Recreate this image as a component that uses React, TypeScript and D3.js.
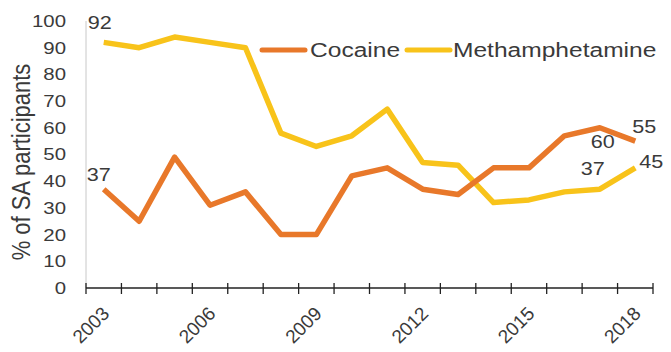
import React from "react";
import * as d3 from "d3";

const years = [2003, 2004, 2005, 2006, 2007, 2008, 2009, 2010, 2011, 2012, 2013, 2014, 2015, 2016, 2017, 2018];
const cocaine = [37, 25, 49, 31, 36, 20, 20, 42, 45, 37, 35, 45, 45, 57, 60, 55];
const meth = [92, 90, 94, 92, 90, 58, 53, 57, 67, 47, 46, 32, 33, 36, 37, 45];
const yTicks = [0, 10, 20, 30, 40, 50, 60, 70, 80, 90, 100];
const xLabelYears = [2003, 2006, 2009, 2012, 2015, 2018];

const W = 671;
const H = 352;
const ORANGE = "#E8782A";
const YELLOW = "#F8C31A";
const TEXT = "#3a3a3a";
const FONT = "'Liberation Sans', Arial, sans-serif";
const SX = 1.2; // horizontal text stretch

type LabelProps = {
  x: number;
  y: number;
  size: number;
  anchor?: "start" | "middle" | "end";
  rotate?: number;
  sx?: number;
  children: React.ReactNode;
};

function Label({ x, y, size, anchor = "middle", rotate = 0, sx = SX, children }: LabelProps) {
  return (
    <text
      transform={`translate(${x},${y}) scale(${sx},1) rotate(${rotate})`}
      textAnchor={anchor}
      dy="0.35em"
      fontSize={size}
      fill={TEXT}
    >
      {children}
    </text>
  );
}

export default function App() {
  const x = d3.scaleBand<number>().domain(years).range([86, 653]).padding(0);
  const cx = (yr: number) => (x(yr) as number) + x.bandwidth() / 2;
  const y = d3.scaleLinear().domain([0, 100]).range([288, 21]);

  const line = d3
    .line<number>()
    .x((_, i) => cx(years[i]))
    .y((v) => y(v));

  const edges = [...years.map((yr) => x(yr) as number), 653];
  const last = years.length - 1;
  const prev = years.length - 2;

  return (
    <svg
      width={W}
      height={H}
      style={{ position: "absolute", left: 0, top: 0, background: "#fff" }}
      fontFamily={FONT}
    >
      {/* y axis line */}
      <line x1={86} x2={86} y1={y(100)} y2={y(0)} stroke="#c8c8c8" strokeWidth={1} />
      {yTicks.map((t) => (
        <Label key={t} x={66} y={y(t)} size={17} anchor="end">
          {t}
        </Label>
      ))}
      <Label x={21} y={162} size={22} rotate={-90}>
        % of SA participants
      </Label>

      {/* x axis */}
      <line x1={86} x2={653} y1={y(0)} y2={y(0)} stroke="#222" strokeWidth={1.3} />
      {edges.map((e, i) => (
        <line key={i} x1={e} x2={e} y1={y(0) - 5} y2={y(0) + 6} stroke="#222" strokeWidth={1.3} />
      ))}
      {xLabelYears.map((yr) => (
        <Label key={yr} x={cx(yr) + 2} y={y(0) + 22} size={19} anchor="end" rotate={-45} sx={1}>
          {yr}
        </Label>
      ))}

      {/* series */}
      <path d={line(meth) || ""} fill="none" stroke={YELLOW} strokeWidth={5.5} strokeLinejoin="round" />
      <path d={line(cocaine) || ""} fill="none" stroke={ORANGE} strokeWidth={5.5} strokeLinejoin="round" />

      {/* data labels */}
      <Label x={cx(years[0]) - 4} y={y(meth[0]) - 20} size={18}>
        {meth[0]}
      </Label>
      <Label x={cx(years[0]) - 5} y={y(cocaine[0]) - 15} size={18}>
        {cocaine[0]}
      </Label>
      <Label x={cx(years[prev]) + 3} y={y(cocaine[prev]) + 14} size={18}>
        {cocaine[prev]}
      </Label>
      <Label x={cx(years[prev]) - 7} y={y(meth[prev]) - 21} size={18}>
        {meth[prev]}
      </Label>
      <Label x={cx(years[last]) + 9} y={y(cocaine[last]) - 14} size={18}>
        {cocaine[last]}
      </Label>
      <Label x={cx(years[last]) + 16} y={y(meth[last]) - 6} size={18}>
        {meth[last]}
      </Label>

      {/* legend */}
      <line x1={262} x2={305} y1={50} y2={50} stroke={ORANGE} strokeWidth={5} strokeLinecap="round" />
      <Label x={310} y={50} size={21} anchor="start" sx={1.17}>
        Cocaine
      </Label>
      <line x1={407} x2={450} y1={50} y2={50} stroke={YELLOW} strokeWidth={5} strokeLinecap="round" />
      <Label x={453} y={50} size={21} anchor="start" sx={1.17}>
        Methamphetamine
      </Label>
    </svg>
  );
}
